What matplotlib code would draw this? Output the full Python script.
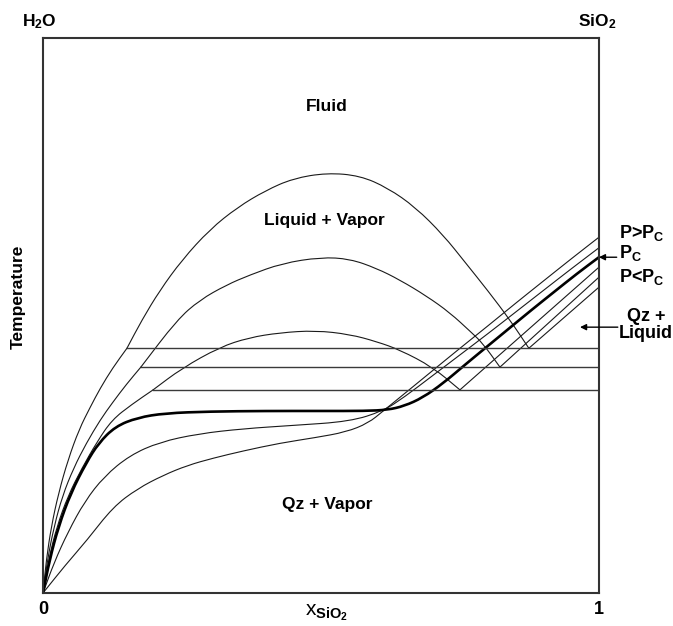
import matplotlib
matplotlib.use("Agg")
import matplotlib.pyplot as plt
from matplotlib.path import Path
from matplotlib.patches import PathPatch

plt.rcParams['font.family'] = ['Liberation Sans', 'DejaVu Sans']
plt.rcParams['mathtext.fontset'] = 'custom'
plt.rcParams['mathtext.rm'] = 'Liberation Sans'
plt.rcParams['mathtext.bf'] = 'Liberation Sans:bold'
plt.rcParams['mathtext.it'] = 'Liberation Sans:italic'

# composition (x SiO2) and temperature (arbitrary units, 0-100)

# P < Pc: solubility curves up to the three-phase line, then the solvus dome,
# then the quartz liquidus up to pure SiO2
low1_x = [0, 0.006, 0.015, 0.028, 0.045, 0.065, 0.085, 0.103, 0.125, 0.151]
low1_t = [0, 6.0, 12.0, 18.0, 24.0, 29.5, 33.5, 36.9, 40.5, 44.1]
low2_x = [0, 0.008, 0.020, 0.035, 0.055, 0.078, 0.103, 0.125, 0.150, 0.176]
low2_t = [0, 6.0, 12.0, 17.5, 22.5, 27.0, 31.2, 34.3, 37.6, 40.7]
low3_x = [0, 0.010, 0.025, 0.045, 0.070, 0.097, 0.124, 0.160, 0.198]
low3_t = [0, 6.0, 12.0, 17.5, 22.5, 27.2, 31.2, 34.0, 36.6]

dome1_x = [0.151, 0.178, 0.21, 0.25, 0.30, 0.35, 0.40, 0.45, 0.511, 0.57, 0.62, 0.67, 0.72, 0.76, 0.80, 0.84, 0.874]
dome1_t = [44.1, 49.2, 54.5, 60.0, 65.5, 69.5, 72.5, 74.7, 75.7, 75.2, 73.0, 69.5, 64.5, 59.5, 54.5, 49.2, 44.1]
dome2_x = [0.176, 0.241, 0.282, 0.33, 0.372, 0.43, 0.50, 0.552, 0.60, 0.642, 0.69, 0.732, 0.77, 0.791, 0.822]
dome2_t = [40.7, 49.2, 52.8, 55.5, 57.3, 59.4, 60.5, 60.2, 58.5, 56.4, 53.5, 50.5, 47.0, 45.0, 40.7]
dome3_x = [0.198, 0.25, 0.318, 0.37, 0.426, 0.49, 0.552, 0.60, 0.642, 0.701, 0.750]
dome3_t = [36.6, 40.5, 44.3, 46.0, 46.9, 47.3, 46.6, 45.3, 43.8, 40.7, 36.6]

liq1_x, liq1_t = [0.874, 1.0], [44.1, 55.1]
liq2_x, liq2_t = [0.822, 1.0], [40.7, 56.9]
liq3_x, liq3_t = [0.750, 1.0], [36.6, 58.7]

# three-phase lines (Qz + Liquid + Vapor)
tri_x = [0.151, 0.176, 0.198]
tri_t = [44.1, 40.7, 36.6]

# critical pressure curve
pc_x = [0, 0.012, 0.028, 0.050, 0.078, 0.100, 0.130, 0.170, 0.220, 0.30, 0.40, 0.50, 0.58,
        0.62, 0.65, 0.683, 0.72, 0.76, 0.80, 0.84, 0.88, 0.92, 0.96, 1.0]
pc_t = [0, 6.0, 12.0, 18.0, 23.5, 27.0, 30.0, 31.6, 32.4, 32.7, 32.8, 32.8, 32.8,
        33.0, 33.7, 35.2, 37.8, 41.2, 44.5, 47.8, 51.1, 54.3, 57.5, 60.5]

# P > Pc curves
high1_x = [0, 0.020, 0.045, 0.075, 0.110, 0.156, 0.210, 0.280, 0.360, 0.450, 0.552, 0.612,
           0.65, 0.70, 0.75, 0.80, 0.85, 0.90, 0.95, 1.0]
high1_t = [0, 5.5, 11.0, 16.5, 21.0, 24.8, 27.2, 28.7, 29.6, 30.2, 30.9, 32.8,
           35.3, 39.1, 42.9, 46.7, 50.6, 54.5, 58.4, 62.2]
high2_x = [0, 0.040, 0.079, 0.126, 0.170, 0.216, 0.260, 0.306, 0.360, 0.426, 0.490, 0.545, 0.585,
           0.612, 0.65, 0.70, 0.75, 0.80, 0.85, 0.90, 0.95, 1.0]
high2_t = [0, 5.0, 9.5, 15.5, 18.8, 21.2, 23.0, 24.3, 25.6, 27.0, 28.0, 29.0, 30.6,
           32.8, 35.9, 40.0, 44.1, 48.1, 52.2, 56.2, 60.2, 64.1]


def smooth_path(xs, ts):
    # quadratic curve through the midpoints, using each point as control
    pts = list(zip(xs, ts))
    if len(pts) < 3:
        return Path(pts)
    mids = [((pts[i][0] + pts[i + 1][0]) / 2, (pts[i][1] + pts[i + 1][1]) / 2)
            for i in range(len(pts) - 1)]
    verts = [pts[0], mids[0]]
    codes = [Path.MOVETO, Path.LINETO]
    for i in range(1, len(pts) - 1):
        verts += [pts[i], mids[i]]
        codes += [Path.CURVE3, Path.CURVE3]
    verts.append(pts[-1])
    codes.append(Path.LINETO)
    return Path(verts, codes)


def draw(ax, xs, ts, **kw):
    ax.add_patch(PathPatch(smooth_path(xs, ts), fill=False, joinstyle='round',
                           capstyle='round', **kw))


fig = plt.figure(figsize=(6.73, 6.26), dpi=100)
ax = fig.add_axes([0.0639, 0.0527, 0.826, 0.8866])
ax.set_xlim(0, 1)
ax.set_ylim(0, 100)

for xs, ts in [(low1_x, low1_t), (low2_x, low2_t), (low3_x, low3_t),
               (dome1_x, dome1_t), (dome2_x, dome2_t), (dome3_x, dome3_t),
               (liq1_x, liq1_t), (liq2_x, liq2_t), (liq3_x, liq3_t),
               (high1_x, high1_t), (high2_x, high2_t)]:
    draw(ax, xs, ts, edgecolor='#1a1a1a', lw=0.8)
for x0, t0 in zip(tri_x, tri_t):
    ax.plot([x0, 1.0], [t0, t0], color='#3a3a3a', lw=1.0)
draw(ax, pc_x, pc_t, edgecolor='black', lw=1.9)

for s in ax.spines.values():
    s.set_linewidth(1.5)
    s.set_color('#333333')
ax.set_yticks([])
ax.set_xticks([0, 1])
ax.set_xticklabels(['0', '1'], fontsize=13, fontweight='bold')
ax.tick_params(axis='x', length=0, pad=6)

bold = dict(fontsize=12.5, fontweight='bold')
ax.text(0.511, 0.876, 'Fluid', transform=ax.transAxes, ha='center', va='center', **bold)
ax.text(0.507, 0.672, 'Liquid + Vapor', transform=ax.transAxes, ha='center', va='center', **bold)
ax.text(0.511, 0.159, 'Qz + Vapor', transform=ax.transAxes, ha='center', va='center', **bold)
ax.text(-0.007, 1.03, r'H$_\mathbf{2}$O', transform=ax.transAxes, ha='center', va='center', **bold)
ax.text(0.996, 1.03, r'SiO$_\mathbf{2}$', transform=ax.transAxes, ha='center', va='center', **bold)
ax.text(-0.045, 0.533, 'Temperature', transform=ax.transAxes, rotation=90,
        ha='center', va='center', **bold)
ax.text(0.511, -0.036, r'x$_{\mathbf{SiO_2}}$', transform=ax.transAxes, ha='center',
        va='center', fontsize=15)

lab = dict(fontsize=13, fontweight='bold')
ax.text(1.036, 64.9, r'P>P$_\mathbf{C}$', ha='left', va='center', clip_on=False, **lab)
ax.text(1.036, 61.3, r'P$_\mathbf{C}$', ha='left', va='center', clip_on=False, **lab)
ax.text(1.036, 56.9, r'P<P$_\mathbf{C}$', ha='left', va='center', clip_on=False, **lab)
ax.text(1.085, 48.3, 'Qz +\nLiquid', ha='center', va='center', linespacing=0.95,
        clip_on=False, **lab)
ax.annotate('', xy=(1.0, pc_t[-1]), xytext=(1.032, pc_t[-1]), annotation_clip=False,
            arrowprops=dict(arrowstyle='-|>', color='black', lw=1.0,
                            mutation_scale=9, shrinkA=0, shrinkB=0))
ax.annotate('', xy=(0.966, 47.9), xytext=(1.034, 47.9), annotation_clip=False,
            arrowprops=dict(arrowstyle='-|>', color='black', lw=1.0,
                            mutation_scale=9, shrinkA=0, shrinkB=0))

fig.savefig('out.png', dpi=100)
